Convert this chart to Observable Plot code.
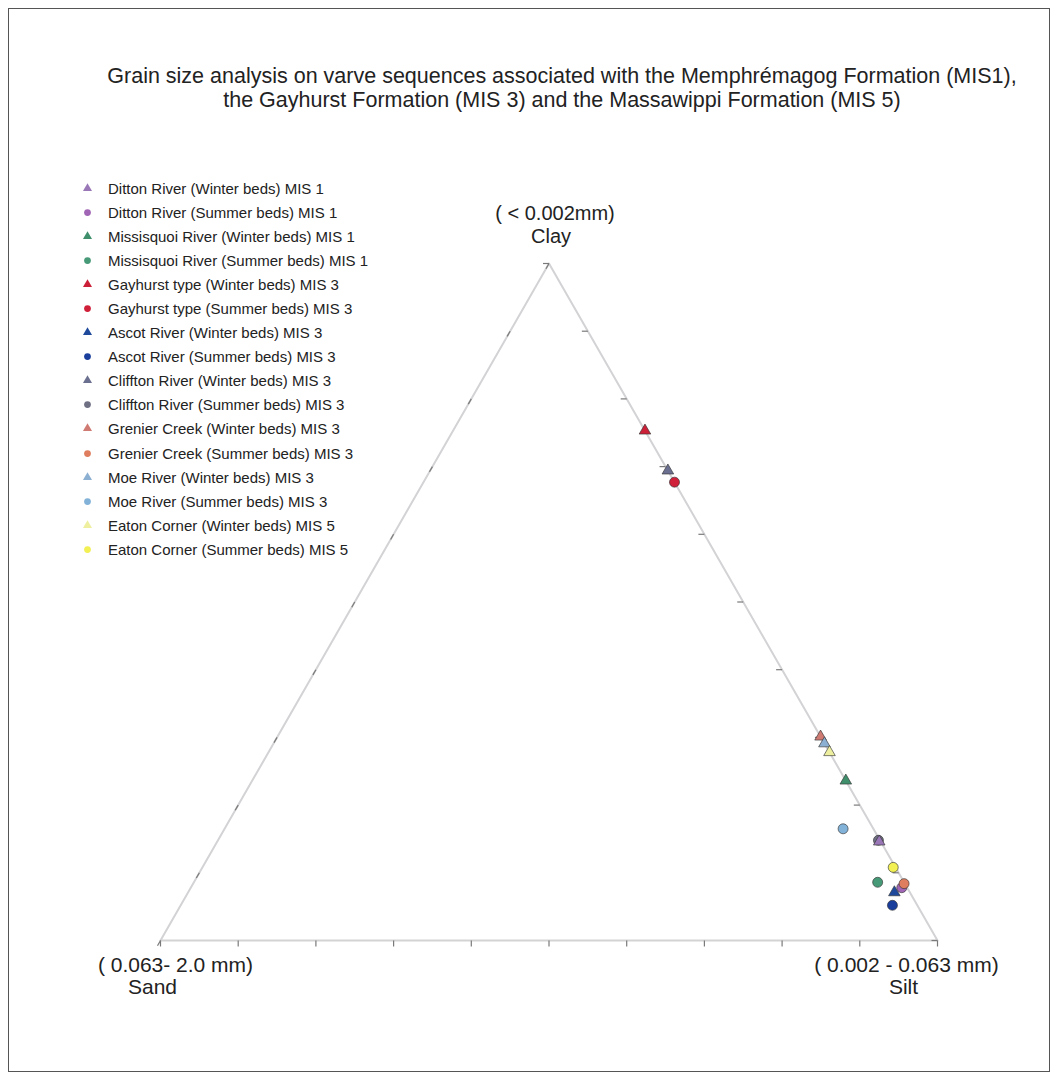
<!DOCTYPE html>
<html><head><meta charset="utf-8">
<script src="https://cdn.jsdelivr.net/npm/d3@7"></script>
<script src="https://cdn.jsdelivr.net/npm/@observablehq/plot@0.6"></script>
<style>
html,body{margin:0;padding:0;background:#fff;}
body{width:1058px;height:1079px;position:relative;overflow:hidden;font-family:"Liberation Sans",Arial,sans-serif;}
#frame{position:absolute;left:8px;top:8px;width:1042px;height:1064px;border:1.5px solid #555;box-sizing:border-box;}
#title{position:absolute;left:0;top:64px;width:1124px;text-align:center;font-size:21.5px;line-height:24px;color:#222;}
#chart{position:absolute;left:0;top:130px;}
#legend{position:absolute;left:80px;top:176px;}
#legend .lg-swatches{display:block !important;font-family:"Liberation Sans",Arial,sans-serif !important;font-size:15px !important;color:#222;margin:0 !important;min-height:0 !important;}
#legend .lg-swatch{display:flex !important;align-items:center;height:24.1px;margin:0 !important;white-space:nowrap;}
#legend .lg-swatch svg{margin-right:13px !important;overflow:visible;}
</style></head><body>
<div id="frame"></div>
<div id="title">Grain size analysis on varve sequences associated with the Memphrémagog Formation (MIS1),<br>the Gayhurst Formation (MIS 3) and the Massawippi Formation (MIS 5)</div>
<div id="chart"></div>
<div id="legend"></div>
<script>
// ---- data ----
const series = [
  "Ditton River (Winter beds) MIS 1",
  "Ditton River (Summer beds) MIS 1",
  "Missisquoi River (Winter beds) MIS 1",
  "Missisquoi River (Summer beds) MIS 1",
  "Gayhurst type (Winter beds) MIS 3",
  "Gayhurst type (Summer beds) MIS 3",
  "Ascot River (Winter beds) MIS 3",
  "Ascot River (Summer beds) MIS 3",
  "Cliffton River (Winter beds) MIS 3",
  "Cliffton River (Summer beds) MIS 3",
  "Grenier Creek (Winter beds) MIS 3",
  "Grenier Creek (Summer beds) MIS 3",
  "Moe River (Winter beds) MIS 3",
  "Moe River (Summer beds) MIS 3",
  "Eaton Corner (Winter beds) MIS 5",
  "Eaton Corner (Summer beds) MIS 5"
];
const shapes = ["triangle","circle","triangle","circle","triangle","circle","triangle","circle",
                "triangle","circle","triangle","circle","triangle","circle","triangle","circle"];
const colors = ["#9a78b8","#a065b5","#3f8f6c","#479a78","#cc2038","#d01f38","#1f4a9c","#1a3e9c",
                "#6c7090","#6f7084","#cf7a72","#de7e5e","#8cb0d2","#82b2d8","#eef0a0","#f2f052"];
// percentages (clay < 0.002 mm, silt 0.002-0.063 mm, sand 0.063-2.0 mm)
const clay = [14.6, 7.8, 23.6, 8.6, 75.3, 67.7, 7.1, 5.2, 69.4, 14.8, 30.1, 8.4, 29.1, 16.5, 27.8, 10.8];
const silt = [85.2, 91.5, 76.4, 88.0, 24.7, 32.3, 90.9, 91.6, 30.6, 85.0, 69.9, 91.5, 70.9, 79.6, 72.2, 88.9];
const sand = [0.2, 0.7, 0.0, 3.4, 0.0, 0.0, 2.0, 3.2, 0.0, 0.2, 0.0, 0.1, 0.0, 3.9, 0.0, 0.3];

const vertexNames  = ["Clay", "Sand", "Silt"];
const vertexRanges = ["( < 0.002mm)", "( 0.063- 2.0 mm)", "( 0.002 - 0.063 mm)"];
const vertexClay = [100, 0, 0];
const vertexSilt = [0, 0, 100];
const vertexSand = [0, 100, 0];
const tickValues = [0, 10, 20, 30, 40, 50, 60, 70, 80, 90, 100];

// ---- ternary projection ----
const tx = (c, s) => (s + c / 2) / 100;
const ty = (c) => c / 100;

const rows = series.map((name, i) => ({
  series: name, shape: shapes[i],
  x: tx(clay[i], silt[i]), y: ty(clay[i])
}));
const verts = vertexNames.map((n, i) => ({
  name: n, range: vertexRanges[i], x: tx(vertexClay[i], vertexSilt[i]), y: ty(vertexClay[i])
}));
const outline = [verts[1], verts[2], verts[0], verts[1]];

// tick marks (short strokes)
const W = 777, H = 677, L = 6;
const ticks = [];
tickValues.forEach(t => {
  const b = {x: tx(0, t), y: 0};
  ticks.push({x1: b.x, y1: b.y, x2: b.x, y2: -L / H});
  const r = {x: tx(t, 100 - t), y: ty(t)};
  ticks.push({x1: r.x, y1: r.y, x2: r.x - L / W, y2: r.y});
  const l = {x: tx(t, 0), y: ty(t)};
  ticks.push({x1: l.x, y1: l.y, x2: l.x - L * 0.5 / W, y2: l.y - L * 0.866 / H});
});

const font = "'Liberation Sans', Arial, sans-serif";
const plot = Plot.plot({
  width: 1058, height: 949,
  marginLeft: 160, marginRight: 121, marginTop: 133, marginBottom: 139,
  x: {domain: [0, 1], axis: null},
  y: {domain: [0, 1], axis: null},
  color: {domain: series, range: colors},
  symbol: {domain: series, range: shapes},
  style: {background: "transparent", fontFamily: font, overflow: "visible"},
  marks: [
    Plot.line(outline, {x: "x", y: "y", stroke: "#d3d3d6", strokeWidth: 2}),
    Plot.link(ticks, {x1: "x1", y1: "y1", x2: "x2", y2: "y2", stroke: "#7a7a7a", strokeWidth: 1.2}),
    Plot.dot(rows.filter(d => d.shape === "circle"), {x: "x", y: "y", symbol: "series", fill: "series", stroke: "#333", strokeWidth: 0.8, strokeOpacity: 0.8, r: 5}),
    Plot.dot(rows.filter(d => d.shape === "triangle"), {x: "x", y: "y", symbol: "series", fill: "series", stroke: "#333", strokeWidth: 0.8, strokeOpacity: 0.8, r: 4.3}),
    Plot.text(verts.filter(d => d.name === "Clay"), {x: "x", y: "y", text: "range", dx: 6, dy: -50, fontSize: 20, fill: "#222"}),
    Plot.text(verts.filter(d => d.name === "Clay"), {x: "x", y: "y", text: "name", dx: 2, dy: -27, fontSize: 20, fill: "#222"}),
    Plot.text(verts.filter(d => d.name === "Sand"), {x: "x", y: "y", text: "range", dx: 15, dy: 25, fontSize: 21, fill: "#222"}),
    Plot.text(verts.filter(d => d.name === "Sand"), {x: "x", y: "y", text: "name", dx: -8, dy: 47, fontSize: 21, fill: "#222"}),
    Plot.text(verts.filter(d => d.name === "Silt"), {x: "x", y: "y", text: "range", dx: -31, dy: 25, fontSize: 21, fill: "#222"}),
    Plot.text(verts.filter(d => d.name === "Silt"), {x: "x", y: "y", text: "name", dx: -34, dy: 47, fontSize: 21, fill: "#222"})
  ]
});
document.getElementById("chart").appendChild(plot);
const leg = plot.legend("symbol", {className: "lg", stroke: "none", r: 3.6});
document.getElementById("legend").appendChild(leg);
</script>
</body></html>
